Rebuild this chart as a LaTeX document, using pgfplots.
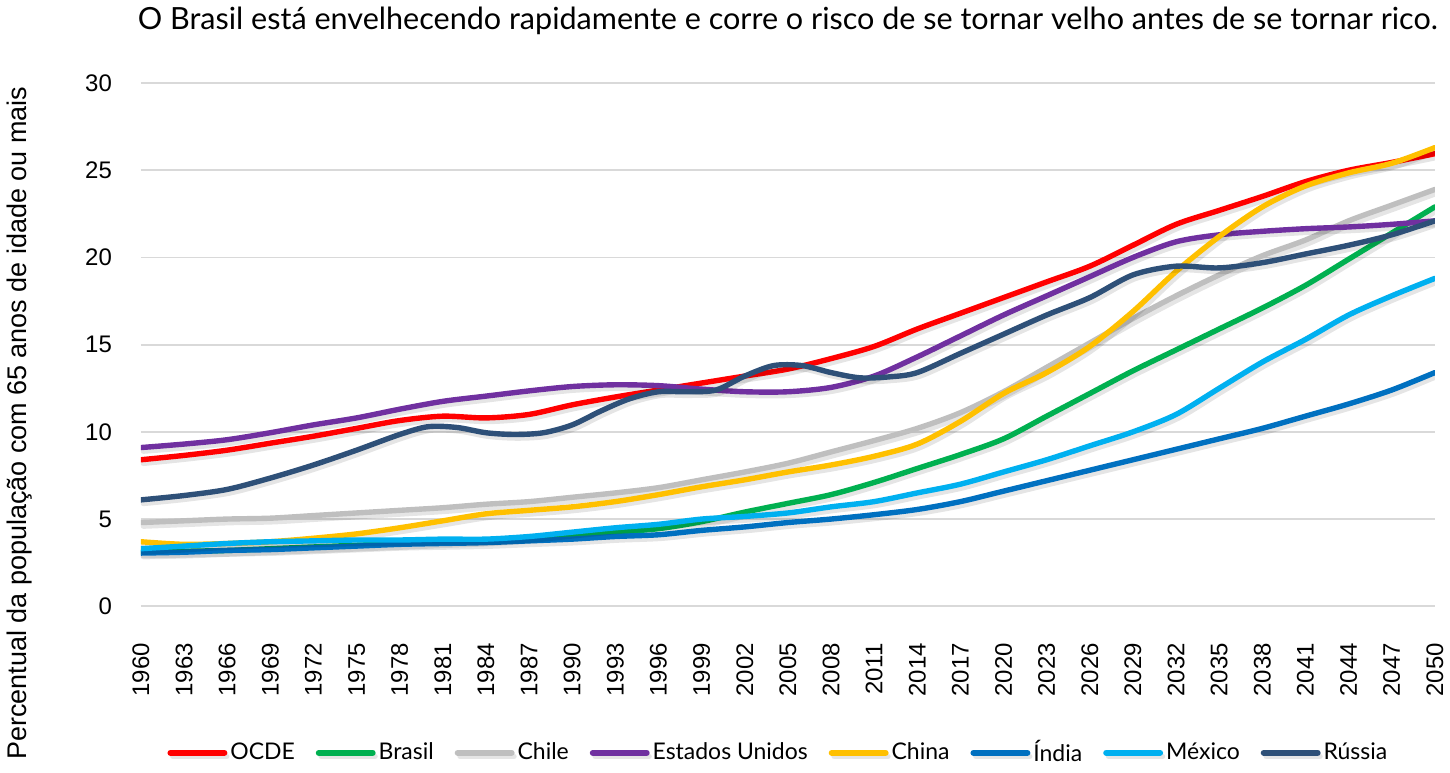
\documentclass[border=0pt]{standalone}
\usepackage{pgfplots}
\pgfplotsset{compat=1.18}
\usepackage{pgfplotstable}
\usepackage{fontspec}
\setmainfont{Lato}
\newfontfamily\arialf{Liberation Sans}
\definecolor{cOCDE}{HTML}{FF0000}
\definecolor{cBR}{HTML}{00B050}
\definecolor{cCL}{HTML}{BFBFBF}
\definecolor{cUS}{HTML}{7030A0}
\definecolor{cCN}{HTML}{FFC000}
\definecolor{cIN}{HTML}{0070C0}
\definecolor{cMX}{HTML}{00B0F0}
\definecolor{cRU}{HTML}{2E5078}

\pgfplotstableread{
year ocde brasil chile eua china india mexico
1960 8.4  3.1  4.8  9.1  3.7  3.05 3.3
1963 8.65 3.15 4.9  9.3  3.55 3.1  3.45
1966 8.95 3.2  5.0  9.55 3.6  3.2  3.6
1969 9.35 3.3  5.05 9.95 3.7  3.25 3.7
1972 9.75 3.4  5.2  10.4 3.9  3.35 3.75
1975 10.2 3.5  5.35 10.8 4.15 3.45 3.8
1978 10.65 3.6 5.5  11.3 4.5  3.55 3.8
1981 10.9 3.7  5.65 11.75 4.9 3.6  3.85
1984 10.8 3.8  5.85 12.05 5.3 3.65 3.85
1987 11.0 3.95 6.0  12.35 5.5 3.75 4.0
1990 11.55 4.1 6.25 12.6 5.7  3.85 4.25
1993 12.0 4.25 6.5  12.7 6.0  4.0  4.5
1996 12.4 4.45 6.8  12.65 6.4 4.1  4.7
1999 12.8 4.85 7.25 12.45 6.85 4.35 5.0
2002 13.2 5.4  7.7  12.3 7.25 4.55 5.15
2005 13.6 5.9  8.2  12.3 7.7  4.8  5.35
2008 14.2 6.4  8.85 12.55 8.1 5.0  5.7
2011 14.9 7.1  9.5  13.2 8.6  5.25 6.0
2014 15.9 7.9  10.2 14.3 9.3  5.55 6.5
2017 16.8 8.7  11.1 15.5 10.6 6.0  7.0
2020 17.7 9.6  12.3 16.7 12.2 6.6  7.7
2023 18.6 10.9 13.7 17.8 13.4 7.2  8.4
2026 19.5 12.2 15.1 18.9 14.9 7.8  9.2
2029 20.7 13.5 16.5 20.0 16.9 8.4  10.0
2032 21.9 14.7 17.8 20.9 19.2 9.0  11.0
2035 22.7 15.9 19.0 21.3 21.2 9.6  12.5
2038 23.5 17.1 20.1 21.5 22.9 10.2 14.0
2041 24.35 18.4 21.0 21.65 24.1 10.9 15.3
2044 25.0 19.9 22.1 21.75 24.85 11.6 16.7
2047 25.45 21.4 23.0 21.9 25.4 12.4 17.8
2050 25.95 22.9 23.9 22.1 26.3 13.4 18.8
}\maindata

\pgfplotstableread{
year russia
1960 6.1
1963 6.35
1966 6.7
1969 7.35
1972 8.1
1975 8.95
1978 9.85
1980 10.3
1982 10.25
1984 9.95
1986 9.85
1988 9.95
1990 10.4
1992 11.2
1994 11.9
1996 12.3
1998 12.3
2000 12.4
2002 13.2
2004 13.8
2006 13.8
2008 13.4
2010 13.1
2012 13.15
2014 13.4
2017 14.5
2020 15.6
2023 16.7
2026 17.7
2029 19.0
2032 19.5
2035 19.4
2038 19.7
2041 20.2
2044 20.7
2047 21.3
2050 22.1
}\russiadata

\begin{document}
\begin{tikzpicture}
\begin{axis}[
  scale only axis,
  width=648pt, height=262pt,
  xmin=1960, xmax=2050,
  ymin=0, ymax=30,
  xtick={1960,1963,...,2050},
  ytick={0,5,...,30},
  /pgf/number format/1000 sep={},
  /pgf/number format/assume math mode=true,
  axis line style={draw=none},
  tick style={draw=none},
  ymajorgrids,
  grid style={draw=black!15, line width=0.9pt},
  x tick label style={rotate=90, anchor=east, font=\arialf\fontsize{12}{14}\selectfont, xshift=-15pt},
  y tick label style={font=\arialf\fontsize{12}{14}\selectfont, anchor=east, xshift=-11pt},
  ylabel={Percentual da população com 65 anos de idade ou mais},
  ylabel style={at={(axis description cs:-0.094,0.35)}, anchor=center, font=\arialf\fontsize{13.5}{16}\selectfont},
  title={O Brasil está envelhecendo rapidamente e corre o risco de se tornar velho antes de se tornar rico.},
  title style={at={(axis description cs:0.5,1)}, anchor=base, yshift=21pt, font=\fontsize{15.3}{18}\selectfont},
  legend columns=8,
  legend style={at={(axis description cs:0.493,-0.28)}, anchor=center, draw=none, font=\fontsize{11.5}{13}\selectfont,
    nodes={inner xsep=1.5pt},
    /tikz/every even column/.append style={column sep=9pt}},
  legend image code/.code={\draw[#1, line width=3pt, line cap=round] (0pt,0pt) -- (27pt,0pt);},
  every axis plot/.append style={line width=2.7pt, smooth, tension=0.5, line cap=round,
    preaction={draw=black, opacity=0.1, transform canvas={xshift=1.2pt, yshift=-1.8pt}}},
]
\addplot[cOCDE] table[x=year, y=ocde] {\maindata};
\addlegendentry{OCDE}
\addplot[cBR] table[x=year, y=brasil] {\maindata};
\addlegendentry{Brasil}
\addplot[cCL] table[x=year, y=chile] {\maindata};
\addlegendentry{Chile}
\addplot[cUS] table[x=year, y=eua] {\maindata};
\addlegendentry{Estados Unidos}
\addplot[cCN] table[x=year, y=china] {\maindata};
\addlegendentry{China}
\addplot[cIN] table[x=year, y=india] {\maindata};
\addlegendentry{Índia}
\addplot[cMX] table[x=year, y=mexico] {\maindata};
\addlegendentry{México}
\addplot[cRU] table[x=year, y=russia] {\russiadata};
\addlegendentry{Rússia}
\end{axis}
\end{tikzpicture}
\end{document}
